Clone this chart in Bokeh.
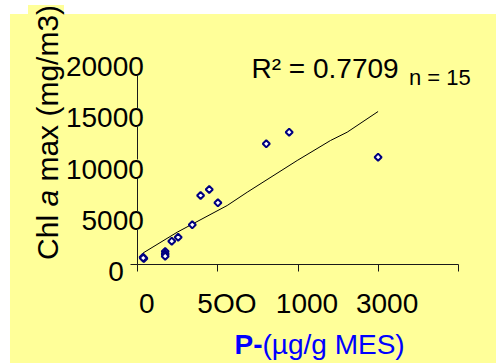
import numpy as np
from bokeh.plotting import figure
from bokeh.models import Range1d, Label, LabelSet, ColumnDataSource, FixedTicker
from bokeh.core.properties import value
from bokeh.embed import file_html
from bokeh.resources import INLINE

# ---------------- data ----------------
x_tick_values = [0, 500, 1000, 3000]
x_tick_labels = ["0", "5OO", "1000", "3000"]
y_tick_values = [0, 5000, 10000, 15000, 20000]
y_tick_labels = ["0", "5000", "10000", "15000", "20000"]

p_ug_g = [33, 38, 34, 171, 171, 171, 212, 252, 340, 392, 446, 500, 802, 945, 3000]
chl_a_max = [709, 583, 631, 1262, 1019, 806, 2262, 2650, 3854, 6699, 7282, 5990, 11718, 12845, 10418]

trend_p = [33, 246, 558, 683, 995, 1812, 2228, 3000]
trend_chl = [1117, 3136, 5728, 7019, 10097, 12039, 12845, 14854]

r2_text = "R\u00b2 = 0.7709"
n_text = "n = 15"
x_title_bold = "P-"
x_title_rest = "(\u00b5g/g MES)"
y_title_parts = ["Chl", "a", "max (mg/m3)"]

# ---------------- style ----------------
BG = "#FFFF99"
FONT = "Liberation Sans"
BLUE = "#0000FF"
AXIS = "#1a1a1a"
W, H = 496, 363
PX_X = 80.1            # pixels per x-axis step
PX_Y = 51.5 / 5000.0   # pixels per y unit
X0, Y0 = 137.3, 264.0  # position of the origin inside the canvas
MID = 0.3465           # baseline-to-em-middle distance, in em

idx = np.arange(len(x_tick_values))


def to_axis(v):
    return np.interp(v, x_tick_values, idx)


p = figure(width=W, height=H,
           x_range=Range1d(-X0 / PX_X, (W - X0) / PX_X),
           y_range=Range1d(-(H - Y0) / PX_Y, Y0 / PX_Y),
           x_axis_location="above", y_axis_location="right",
           output_backend="svg", toolbar_location=None,
           min_border=0,
           background_fill_color=None, border_fill_color=None,
           outline_line_color=None)
p.styles = {
    "background": (f"linear-gradient({BG},{BG}) 28px 5px / 36px 9px no-repeat, "
                   f"linear-gradient({BG},{BG}) 10px 14px / 486px 349px no-repeat, #FFFFFF"),
}

p.xgrid.visible = False
p.ygrid.visible = False

xa = p.xaxis[0]
xa.fixed_location = 0
xa.bounds = (0, 4)
xa.ticker = FixedTicker(ticks=[0, 1, 2, 3, 4])
xa.minor_tick_line_color = None
xa.major_tick_in = 7
xa.major_tick_out = 0
xa.axis_line_color = AXIS
xa.major_tick_line_color = AXIS
xa.major_label_text_font_size = "0px"
xa.major_label_standoff = 0
xa.major_label_text_color = None

ya = p.yaxis[0]
ya.fixed_location = 0
ya.bounds = (0, 20000)
ya.ticker = FixedTicker(ticks=y_tick_values)
ya.minor_tick_line_color = None
ya.major_tick_in = 7
ya.major_tick_out = 0
ya.axis_line_color = AXIS
ya.major_tick_line_color = AXIS
ya.major_label_text_font_size = "0px"
ya.major_label_standoff = 0
ya.major_label_text_color = None

# trend line and points
p.line(to_axis(trend_p), trend_chl, line_color="black", line_width=1)
p.scatter(to_axis(p_ug_g), chl_a_max, marker="square", angle=np.pi / 4,
          size=5, line_color="#000080", line_width=2, fill_color="#FFFFFF")

# y tick labels
src_y = ColumnDataSource(dict(x=[0] * (len(y_tick_values) - 1), y=y_tick_values[1:],
                              text=y_tick_labels[1:]))
p.add_layout(LabelSet(x="x", y="y", text="text", source=src_y,
                      x_offset=6, y_offset=-17, text_align="right", text_baseline="alphabetic",
                      text_font=value(FONT), text_font_size="28px", text_color="black",
                      background_fill_color=BG))
src_y0 = ColumnDataSource(dict(x=[0], y=y_tick_values[:1], text=y_tick_labels[:1]))
p.add_layout(LabelSet(x="x", y="y", text="text", source=src_y0,
                      x_offset=-14, y_offset=-16, text_align="right", text_baseline="alphabetic",
                      text_font=value(FONT), text_font_size="28px", text_color="black"))

# x tick labels
src_x = ColumnDataSource(dict(x=list(idx), y=[0] * len(idx), text=x_tick_labels))
p.add_layout(LabelSet(x="x", y="y", text="text", source=src_x,
                      x_offset=9, y_offset=-48, text_align="center", text_baseline="alphabetic",
                      text_font=value(FONT), text_font_size="28px", text_color="black"))


def lab(text, px, py, size_px, rotated=False, **kw):
    """Text whose baseline starts at canvas pixel (px, py), expressed in data units."""
    if rotated:
        px -= MID * size_px
    else:
        py -= MID * size_px
    return Label(x=(px - X0) / PX_X, y=(Y0 - py) / PX_Y, text=text,
                 text_font=FONT, text_font_size=f"{size_px}px",
                 text_baseline="alphabetic", **kw)


# annotations
p.add_layout(lab(r2_text, 251, 77.3, 28, text_color="black"))
p.add_layout(lab(n_text, 408.5, 84.3, 22, text_color="black"))

# x title
p.add_layout(lab(x_title_bold, 234, 353.3, 28, text_font_style="bold", text_color=BLUE))
p.add_layout(lab(x_title_rest, 262, 353.3, 28, text_color=BLUE))

# y title (rotated, three runs so that "a" is italic)
y_starts = [259.4, 206.1, 181.1]
styles = ["normal", "italic", "normal"]
for t, ys, st in zip(y_title_parts, y_starts, styles):
    p.add_layout(lab(t, 57.5, ys, 30, rotated=True, angle=np.pi / 2, text_font_style=st,
                     text_color="black", text_align="left"))

open("out.html", "w").write(file_html(p, INLINE))
